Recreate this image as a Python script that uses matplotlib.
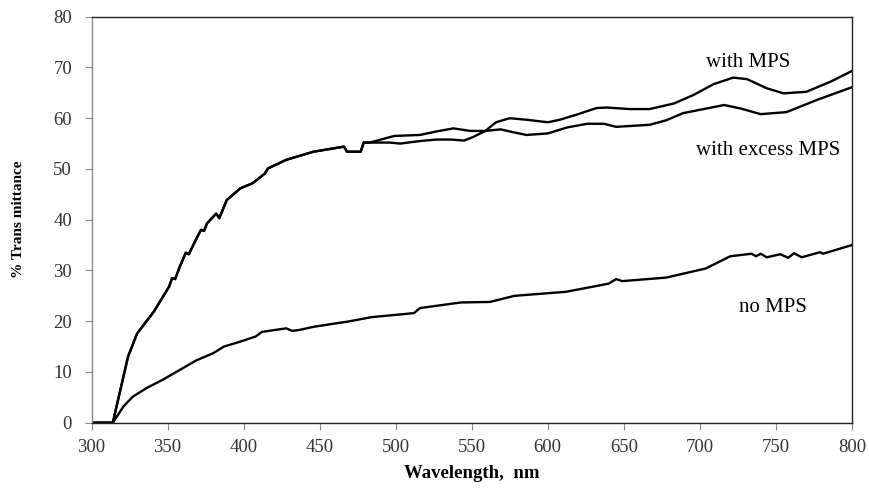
import matplotlib
matplotlib.use("Agg")
import matplotlib.pyplot as plt

# ---- data ----
common_wl = [300, 314, 324, 330, 341, 351, 353, 355, 358, 362, 364, 369, 372, 374, 376, 382, 384,
             389, 398, 406, 414, 416, 428, 446, 466, 468, 477, 479]
common_t = [0, 0, 13.0, 17.6, 21.9, 26.8, 28.5, 28.3, 30.7, 33.5, 33.2, 36.3, 38.0, 37.8, 39.3, 41.2, 40.3,
            43.9, 46.2, 47.2, 49.1, 50.1, 51.8, 53.4, 54.4, 53.4, 53.4, 55.2]

mps_wl = [483, 496, 503, 516, 527, 536, 545, 551, 559, 566, 575, 586, 600, 608, 619, 632, 639, 654, 667,
          683, 696, 709, 722, 731, 744, 755, 770, 786, 800]
mps_t = [55.2, 55.2, 55.0, 55.5, 55.8, 55.8, 55.6, 56.3, 57.5, 59.2, 60.0, 59.7, 59.2, 59.7, 60.7, 62.0,
         62.1, 61.8, 61.8, 62.9, 64.6, 66.7, 68.0, 67.7, 65.9, 64.9, 65.2, 67.2, 69.3]

excess_wl = [483, 499, 516, 527, 538, 549, 559, 569, 578, 586, 600, 613, 626, 637, 645, 667, 678, 689,
             716, 727, 740, 757, 777, 800]
excess_t = [55.2, 56.5, 56.7, 57.4, 58.0, 57.5, 57.5, 57.8, 57.2, 56.7, 57.0, 58.2, 58.9, 58.9, 58.3,
            58.7, 59.6, 61.0, 62.6, 61.9, 60.8, 61.2, 63.6, 66.1]

nomps_wl = [300, 314, 321, 327, 336, 347, 358, 369, 380, 387, 398, 408, 412, 428, 432, 437, 446, 461, 468,
            484, 512, 516, 543, 562, 578, 612, 640, 645, 649, 678, 704, 720, 734, 737, 740, 744, 753, 758,
            762, 767, 779, 781, 800]
nomps_t = [0, 0, 3.2, 5.1, 6.8, 8.5, 10.4, 12.3, 13.7, 15.0, 16.0, 17.0, 17.9, 18.6, 18.1, 18.3, 18.9,
           19.6, 19.9, 20.8, 21.6, 22.6, 23.7, 23.8, 25.0, 25.8, 27.4, 28.3, 27.9, 28.6, 30.4, 32.8, 33.3,
           32.8, 33.3, 32.6, 33.2, 32.5, 33.4, 32.6, 33.6, 33.3, 35.0]

x_ticks = list(range(300, 801, 50))
y_ticks = list(range(0, 81, 10))

# ---- plot ----
plt.rcParams['font.family'] = ['Liberation Serif', 'DejaVu Serif']
fig = plt.figure(figsize=(8.69, 4.91), dpi=100)
ax = fig.add_axes([0.1053, 0.139, 0.875, 0.827])

lw = 1.7
ax.plot(common_wl + mps_wl, common_t + mps_t, color='black', lw=lw)
ax.plot(common_wl + excess_wl, common_t + excess_t, color='black', lw=lw)
ax.plot(nomps_wl, nomps_t, color='black', lw=lw)

ax.set_xlim(300, 800)
ax.set_ylim(0, 80)
ax.set_xticks(x_ticks)
ax.set_yticks(y_ticks)
ax.tick_params(axis='both', direction='out', length=5, width=0.8, color='#888888',
               labelsize=13.5, labelcolor='#333333')
ax.tick_params(axis='x', pad=7)
ax.tick_params(axis='y', pad=9)

for s in ['top', 'right', 'bottom']:
    ax.spines[s].set_color('#222222')
    ax.spines[s].set_linewidth(1.0)
ax.spines['left'].set_color('#888888')
ax.spines['left'].set_linewidth(1.0)

ax.set_xlabel('Wavelength,  nm', fontsize=13.5, fontweight='bold')
ax.set_ylabel('% Trans mittance', fontsize=11, fontweight='bold')
ax.xaxis.set_label_coords(0.5, -0.105)
ax.yaxis.set_label_coords(-0.0875, 0.5)

ax.text(732, 70.1, 'with MPS', fontsize=15, ha='center', va='baseline')
ax.text(745, 52.7, 'with excess MPS', fontsize=15, ha='center', va='baseline')
ax.text(748, 21.8, 'no MPS', fontsize=15, ha='center', va='baseline')

fig.savefig('out.png', dpi=100)
